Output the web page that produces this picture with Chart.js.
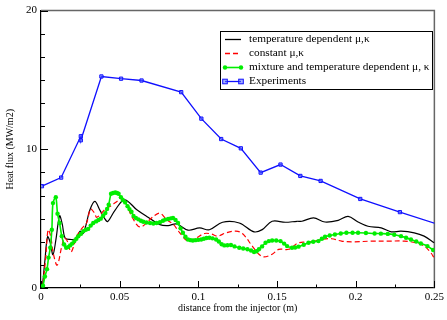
<!DOCTYPE html>
<html>
<head>
<meta charset="utf-8">
<script src="https://cdn.jsdelivr.net/npm/chart.js@4/dist/chart.umd.min.js"></script>
<style>
html,body{margin:0;padding:0;background:#fff;}
canvas{display:block;}
</style>
</head>
<body>
<canvas id="c" width="447" height="320"></canvas>
<script>
// ---- data ----
const xTicks = [0, 0.05, 0.1, 0.15, 0.2, 0.25];
const xTickLabels = ["0", "0.05", "0.1", "0.15", "0.2", "0.25"];
const yTicks = [0, 10, 20];
const yTickLabels = ["0", "10", "20"];

const seriesNames = [
  "temperature dependent \u03bc,\u03ba",
  "constant \u03bc,\u03ba",
  "mixture and temperature dependent \u03bc, \u03ba",
  "Experiments"
];

const tempX = [0.0010,0.0025,0.0042,0.0060,0.0076,0.0095,0.0118,0.0135,0.0153,0.0185,0.0222,0.0248,0.0265,0.0285,0.0310,0.0342,0.0375,0.0405,0.0424,0.0470,0.0531,0.0609,0.0672,0.0756,0.0808,0.0861,0.0934,0.1008,0.1070,0.1154,0.1260,0.1354,0.1406,0.1469,0.1553,0.1627,0.1658,0.1732,0.1805,0.1889,0.1952,0.2015,0.2078,0.2162,0.2225,0.2288,0.2372,0.2435,0.2500];
const tempY = [0.2,2.0,3.7,3.2,2.4,3.5,5.2,4.6,3.6,3.5,3.55,4.1,3.9,4.5,5.6,6.24,5.6,5.0,4.8,5.6,6.36,5.64,5.16,4.57,4.5,4.62,4.17,4.33,4.2,4.74,4.69,4.05,4.21,4.81,4.74,4.81,4.81,5.05,4.76,4.88,5.17,4.76,4.45,4.33,4.05,4.1,3.98,3.74,3.26];

const constX = [0.0013,0.0031,0.0045,0.0060,0.0080,0.0103,0.0132,0.0150,0.0170,0.0190,0.0210,0.0227,0.0260,0.0290,0.0315,0.0340,0.0355,0.0410,0.0441,0.0483,0.0514,0.0545,0.0577,0.0630,0.0714,0.0756,0.0798,0.0840,0.0882,0.0934,0.0987,0.1039,0.1080,0.1123,0.1176,0.1239,0.1280,0.1343,0.1385,0.1417,0.1469,0.1511,0.1574,0.1637,0.1700,0.1784,0.1847,0.1910,0.1994,0.2099,0.2204,0.2309,0.2382,0.2435,0.2477,0.2500];
const constY = [0.3,2.3,4.2,3.8,2.4,1.65,3.0,3.6,3.3,2.6,3.1,3.74,4.3,4.7,5.7,5.4,5.1,5.7,5.9,6.24,6.48,6.0,5.16,4.4,5.16,5.4,4.93,4.6,3.98,3.38,3.62,3.93,3.9,3.74,3.98,4.1,3.93,3.02,2.43,2.24,2.43,2.79,2.79,3.26,3.31,3.5,3.55,3.38,3.33,3.38,3.38,3.38,3.26,3.02,2.55,2.14];

const mixX = [0.0013,0.0025,0.0038,0.0048,0.0059,0.0069,0.0076,0.0094,0.0105,0.0118,0.0132,0.0147,0.0160,0.0172,0.0185,0.0198,0.0212,0.0225,0.0237,0.0253,0.0269,0.0285,0.0300,0.0316,0.0332,0.0350,0.0365,0.0380,0.0395,0.0409,0.0420,0.0430,0.0445,0.0458,0.0472,0.0483,0.0493,0.0508,0.0520,0.0535,0.0550,0.0562,0.0575,0.0588,0.0603,0.0619,0.0635,0.0650,0.0670,0.0693,0.0714,0.0735,0.0756,0.0775,0.0790,0.0808,0.0825,0.0839,0.0855,0.0871,0.0887,0.0902,0.0918,0.0934,0.0950,0.0965,0.0983,0.1000,0.1018,0.1035,0.1052,0.1070,0.1090,0.1113,0.1130,0.1148,0.1165,0.1185,0.1207,0.1230,0.1260,0.1285,0.1312,0.1335,0.1354,0.1370,0.1385,0.1405,0.1427,0.1448,0.1469,0.1495,0.1522,0.1545,0.1564,0.1595,0.1615,0.1637,0.1670,0.1700,0.1730,0.1763,0.1785,0.1805,0.1835,0.1868,0.1905,0.1941,0.1980,0.2015,0.2065,0.2120,0.2160,0.2204,0.2245,0.2288,0.2320,0.2351,0.2385,0.2414,0.2456,0.2492];
const mixY = [0.17,0.83,1.36,2.19,2.9,4.2,6.12,6.55,5.36,4.69,3.74,3.14,2.9,2.95,3.07,3.2,3.38,3.55,3.74,3.9,4.1,4.2,4.26,4.5,4.69,4.8,4.9,5.0,5.21,5.4,5.7,6.0,6.79,6.85,6.88,6.85,6.79,6.55,6.35,6.17,5.9,5.69,5.5,5.2,5.05,4.95,4.85,4.78,4.72,4.69,4.65,4.69,4.74,4.85,4.93,4.98,5.02,5.05,4.9,4.69,4.3,3.98,3.7,3.5,3.45,3.43,3.45,3.47,3.5,3.55,3.6,3.62,3.58,3.5,3.35,3.15,3.07,3.08,3.1,3.0,2.9,2.85,2.79,2.7,2.6,2.65,2.79,3.0,3.26,3.38,3.43,3.42,3.38,3.2,3.02,2.9,2.92,2.98,3.12,3.26,3.33,3.38,3.55,3.69,3.78,3.86,3.93,3.98,3.98,3.98,3.96,3.93,3.92,3.9,3.84,3.74,3.62,3.5,3.35,3.21,3.02,2.74];

const expX = [0.0006,0.0128,0.0253,0.0253,0.0384,0.0509,0.0639,0.0891,0.1019,0.1145,0.1270,0.1396,0.1522,0.1648,0.1777,0.2029,0.2281,0.2533];
const expY = [7.34,7.96,10.94,10.65,15.25,15.09,14.96,14.12,12.21,10.74,10.07,8.32,8.90,8.08,7.72,6.42,5.47,4.55];

const toPts = (xs, ys) => xs.map((x, i) => ({x: x, y: ys[i]}));

// ---- styles ----
const SERIF = "'Liberation Serif','Times New Roman',serif";
Chart.defaults.font.family = SERIF;
Chart.defaults.color = '#000';

const ticksPlugin = {
  id: 'innerTicks',
  beforeDatasetsDraw(chart) {
    const {ctx, chartArea: a, scales: {x, y}} = chart;
    ctx.save();
    ctx.strokeStyle = '#666';
    ctx.lineWidth = 1.5;
    ctx.beginPath();
    ctx.moveTo(a.left, a.top);
    ctx.lineTo(a.right, a.top);
    ctx.lineTo(a.right, a.bottom);
    ctx.stroke();
    ctx.strokeStyle = '#000';
    ctx.lineWidth = 1;
    ctx.beginPath();
    for (let i = 0; i < xTicks.length; i++) {
      const px = Math.round(x.getPixelForValue(xTicks[i])) + 0.5;
      ctx.moveTo(px, a.bottom); ctx.lineTo(px, a.bottom - 7);
      if (i < xTicks.length - 1) {
        const pm = Math.round(x.getPixelForValue((xTicks[i] + xTicks[i + 1]) / 2)) + 0.5;
        ctx.moveTo(pm, a.bottom); ctx.lineTo(pm, a.bottom - 3.5);
      }
    }
    for (let i = 0; i < yTicks.length; i++) {
      const py = Math.round(y.getPixelForValue(yTicks[i])) + 0.5;
      ctx.moveTo(a.left, py); ctx.lineTo(a.left + 7, py);
      if (i < yTicks.length - 1) {
        for (let k = 1; k < 6; k++) {
          const v = yTicks[i] + (yTicks[i + 1] - yTicks[i]) * k / 6;
          const pm = Math.round(y.getPixelForValue(v)) + 0.5;
          ctx.moveTo(a.left, pm); ctx.lineTo(a.left + 4, pm);
        }
      }
    }
    ctx.stroke();
    ctx.restore();
  }
};

const legendPlugin = {
  id: 'boxLegend',
  afterDraw(chart) {
    const ctx = chart.ctx;
    const bx = 220, by = 31, bw = 212, bh = 58;
    ctx.save();
    ctx.fillStyle = '#fff';
    ctx.fillRect(bx, by, bw, bh);
    ctx.strokeStyle = '#000';
    ctx.lineWidth = 1;
    ctx.strokeRect(bx + 0.5, by + 0.5, bw, bh);
    ctx.font = '11.3px ' + SERIF;
    ctx.textBaseline = 'middle';
    chart.data.datasets.forEach((ds, i) => {
      const yy = by + 8.5 + i * 14;
      const x0 = 225, x1 = 241;
      ctx.save();
      ctx.strokeStyle = ds.borderColor;
      ctx.lineWidth = Math.max(ds.borderWidth, 1.3);
      ctx.setLineDash(ds.borderDash || []);
      ctx.beginPath();
      ctx.moveTo(x0, yy); ctx.lineTo(x1, yy);
      ctx.stroke();
      ctx.setLineDash([]);
      if (ds.pointRadius > 0) {
        [x0, x1].forEach(px => {
          ctx.fillStyle = ds.pointBackgroundColor;
          ctx.strokeStyle = ds.pointBorderColor;
          ctx.lineWidth = 1;
          if (ds.pointStyle === 'rect') {
            const r = ds.pointRadius;
            ctx.fillRect(px - r, yy - r, 2 * r, 2 * r);
            ctx.strokeRect(px - r, yy - r, 2 * r, 2 * r);
          } else {
            ctx.beginPath();
            ctx.arc(px, yy, ds.pointRadius, 0, Math.PI * 2);
            ctx.fill();
          }
        });
      }
      ctx.restore();
      ctx.fillStyle = '#000';
      ctx.fillText(ds.label, 249, yy);
    });
    ctx.restore();
  }
};

new Chart(document.getElementById('c'), {
  type: 'line',
  data: {
    datasets: [
      {
        label: seriesNames[0],
        data: toPts(tempX, tempY),
        borderColor: '#000000', borderWidth: 1.2,
        pointRadius: 0, tension: 0.35, order: 3
      },
      {
        label: seriesNames[1],
        data: toPts(constX, constY),
        borderColor: '#ff0000', borderWidth: 1.2, borderDash: [5, 3],
        pointRadius: 0, tension: 0.35, order: 2
      },
      {
        label: seriesNames[2],
        data: toPts(mixX, mixY),
        borderColor: '#00ee00', borderWidth: 1.6,
        pointRadius: 2.2, pointStyle: 'circle',
        pointBackgroundColor: '#00ee00', pointBorderColor: '#00ee00', pointBorderWidth: 0,
        tension: 0.3, order: 1
      },
      {
        label: seriesNames[3],
        data: toPts(expX, expY),
        borderColor: '#1010ff', borderWidth: 1.3,
        pointRadius: 2.3, pointStyle: 'rect',
        pointBackgroundColor: 'rgba(90,110,255,0.55)', pointBorderColor: '#1010ff', pointBorderWidth: 1,
        tension: 0, order: 0
      }
    ]
  },
  options: {
    responsive: false,
    animation: false,
    events: [],
    layout: { padding: { top: 10, right: 9, left: 0, bottom: 0 } },
    plugins: { legend: { display: false }, tooltip: { enabled: false } },
    scales: {
      x: {
        type: 'linear', min: 0, max: 0.25,
        afterBuildTicks(s) { s.ticks = xTicks.map(v => ({value: v})); },
        ticks: {
          font: { size: 11 }, padding: 3, maxRotation: 0, color: '#000',
          callback(v) { const i = xTicks.findIndex(t => Math.abs(t - v) < 1e-9); return i >= 0 ? xTickLabels[i] : ''; }
        },
        grid: { display: true, drawOnChartArea: false, drawTicks: false },
        border: { color: '#000', width: 1.2 },
        title: { display: true, text: 'distance from the injector (m)', font: { size: 10 }, padding: { top: 0, bottom: 6 }, color: '#000' },
        afterFit(s) { s.height = 32; }
      },
      y: {
        type: 'linear', min: 0, max: 20,
        afterBuildTicks(s) { s.ticks = yTicks.map(v => ({value: v})); },
        ticks: {
          font: { size: 11 }, padding: 4, color: '#000',
          callback(v) { const i = yTicks.indexOf(v); return i >= 0 ? yTickLabels[i] : ''; }
        },
        grid: { display: true, drawOnChartArea: false, drawTicks: false },
        border: { color: '#000', width: 1.2 },
        title: { display: true, text: 'Heat flux (MW/m2)', font: { size: 10 }, padding: { top: 4, bottom: 0 }, color: '#000' },
        afterFit(s) { s.width = 41; }
      }
    }
  },
  plugins: [ticksPlugin, legendPlugin]
});
</script>
</body>
</html>
